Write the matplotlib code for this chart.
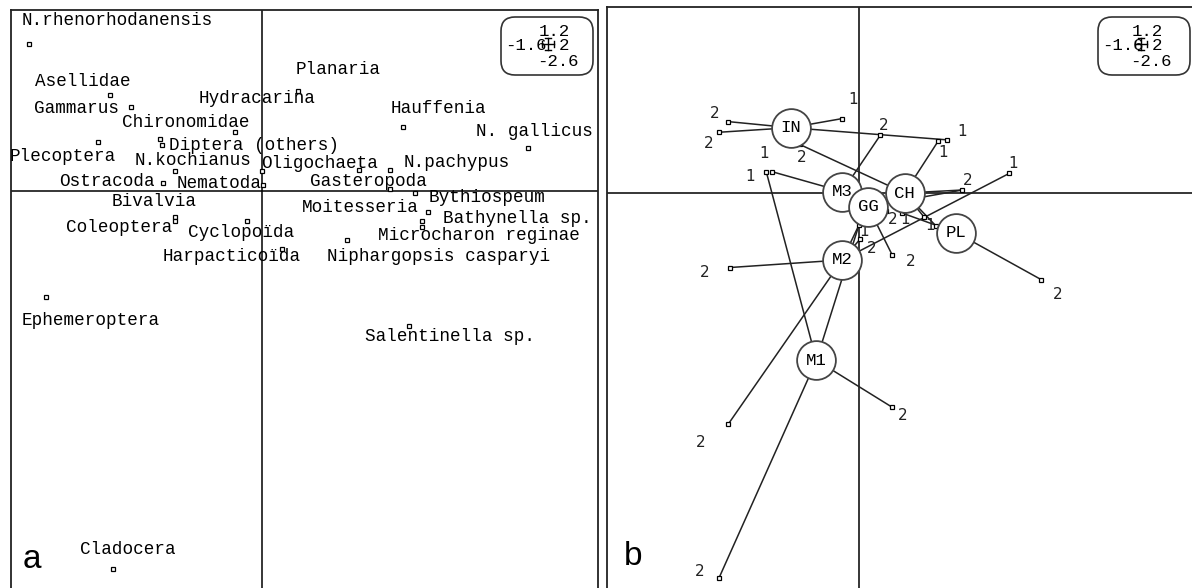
import matplotlib
matplotlib.use("Agg")
import matplotlib.pyplot as plt
import matplotlib.transforms as mtransforms
from matplotlib.patches import FancyBboxPatch

# ---- panel a : species scores ----
pt_x = [-1.53, -1.00, -0.86, -0.18, -1.08, -0.67, -0.66, -0.57, -0.65, 0.00,
        0.01, 0.24, 0.93, 1.75, 0.64, 0.84, 0.84, 1.01, 1.09, 1.05,
        1.05, 0.56, 0.97, -0.57, -0.57, -0.10, 0.13, -1.42, -0.98]
pt_y = [0.97, 0.63, 0.55, 0.39, 0.32, 0.34, 0.30, 0.13, 0.05, 0.13,
        0.04, 0.66, 0.42, 0.28, 0.14, 0.14, 0.01, -0.01, -0.14, -0.20,
        -0.24, -0.32, -0.89, -0.17, -0.20, -0.20, -0.38, -0.70, -2.49]

names = ["N.rhenorhodanensis", "Asellidae", "Gammarus", "Chironomidae",
         "Hydracarina", "Planaria", "Hauffenia", "N. gallicus",
         "Diptera (others)", "Plecoptera", "N.kochianus", "Oligochaeta",
         "N.pachypus", "Ostracoda", "Nematoda", "Gasteropoda", "Bivalvia",
         "Coleoptera", "Cyclopoïda", "Harpacticoïda", "Ephemeroptera",
         "Bythiospeum", "Moitesseria", "Bathynella sp.", "Microcharon reginae",
         "Niphargopsis casparyi", "Salentinella sp.", "Cladocera"]
lab_x = [-0.95, -1.18, -1.22, -0.50, -0.03, 0.50, 1.16, 1.79, -0.05, -1.31,
         -0.45, 0.38, 1.28, -1.02, -0.28, 0.70, -0.71, -0.94, -0.14, -0.20,
         -1.13, 1.48, 0.65, 1.68, 1.43, 1.16, 1.24, -0.88]
lab_y = [1.12, 0.72, 0.54, 0.45, 0.61, 0.80, 0.54, 0.39, 0.30, 0.23,
         0.20, 0.18, 0.19, 0.06, 0.05, 0.06, -0.07, -0.24, -0.27, -0.43,
         -0.85, -0.04, -0.11, -0.18, -0.29, -0.43, -0.96, -2.36]

# ---- panel b : sites grouped by class ----
site_x = [-0.86, -0.92, -0.11, 0.58, -0.39, 0.52, -0.57, -0.61, 0.14, 0.68,
          0.99, 0.18, 0.28, 0.43, 0.51, 1.20, 0.22, 0.00, 0.01, -0.85,
          -0.86, -0.92, 0.22]
site_y = [0.47, 0.40, 0.49, 0.35, 0.32, 0.34, 0.14, 0.14, 0.38, 0.02,
          0.13, -0.12, -0.13, -0.16, -0.22, -0.57, -0.41, -0.21, -0.30, -0.49,
          -1.52, -2.53, -1.41]
site_lab = ["2", "2", "1", "1", "2", "1", "1", "1", "2", "2",
            "1", "2", "1", "1", "", "2", "2", "1", "2", "2",
            "2", "2", "2"]
site_off = [(-14, 8), (-10, -11), (11, 19), (15, 8), (2, -13), (5, -11),
            (-8, 18), (-16, -5), (3, 10), (5, 10), (4, 10), (6, -8), (4, -7),
            (6, -8), (0, 0), (16, -15), (18, -6), (5, -7), (11, -10),
            (-25, -5), (-28, -18), (-19, 6), (10, -8)]

classes = ["IN", "M3", "GG", "CH", "PL", "M2", "M1"]
cls_x = [-0.45, -0.11, 0.06, 0.30, 0.64, -0.11, -0.28]
cls_y = [0.43, 0.01, -0.09, 0.00, -0.26, -0.44, -1.10]
members = {
    "IN": [0, 1, 2, 3],
    "CH": [4, 5, 9, 13, 14],
    "M3": [6, 8],
    "M1": [7, 17, 21, 22],
    "GG": [9, 11, 16],
    "PL": [12, 15],
    "M2": [10, 17, 18, 19, 20],
}

box_text = ["1.2", "-1.6", "2", "-2.6"]

W, H = 1192, 588
fig = plt.figure(figsize=(W / 100, H / 100), dpi=100)
mono = "Liberation Mono"


def frame(ax):
    ax.set_xticks([])
    ax.set_yticks([])
    for s in ax.spines.values():
        s.set_linewidth(1.3)
        s.set_color("#222222")
    ax.axhline(0, color="black", lw=1.1, zorder=1)
    ax.axvline(0, color="black", lw=1.1, zorder=1)


def scale_box(x0, text_dx):
    ident = mtransforms.IdentityTransform()
    box = FancyBboxPatch((x0, H - 75), 92, 58,
                         boxstyle="round,pad=0,rounding_size=14",
                         fc="white", ec="#333333", lw=1.2, transform=ident,
                         zorder=10)
    fig.patches.append(box)
    cx, cy = x0 + 47 + text_dx, H - 44
    segs = [([cx - 6, cx + 6], [cy, cy]), ([cx, cx], [cy - 6, cy + 6])]
    for e in (-6, 6):
        segs.append(([cx + e, cx + e], [cy - 3, cy + 3]))
        segs.append(([cx - 3, cx + 3], [cy + e, cy + e]))
    for xs, ys in segs:
        fig.lines.append(plt.Line2D(xs, ys, color="black", lw=1,
                                    transform=ident, zorder=11))
    kw = dict(transform=ident, family=mono, fontsize=12.5, zorder=12,
              va="center", color="black")
    fig.text(cx + 6, H - 31, box_text[0], ha="center", **kw)
    fig.text(x0 + 4, H - 46, box_text[1], ha="left", **kw)
    fig.text(cx + 16, H - 46, box_text[2], ha="center", **kw)
    fig.text(cx + 10, H - 62, box_text[3], ha="center", **kw)


# panel a
axa = fig.add_axes([11 / W, -3 / H, 587 / W, 581 / H])
frame(axa)
axa.set_xlim(-1.651, 2.211)
axa.set_ylim(-2.632, 1.191)
axa.plot(pt_x, pt_y, ls="none", marker="s", ms=3.2, mfc="white",
         mec="black", mew=0.9, zorder=3)
for n, x, y in zip(names, lab_x, lab_y):
    axa.text(x, y, n, family=mono, fontsize=12.7, ha="center", va="center",
             color="black", zorder=4)
axa.text(0.035, 0.04, "a", transform=axa.transAxes, fontsize=24,
         family="Liberation Sans", ha="center", va="baseline")

# panel b
axb = fig.add_axes([607 / W, -3 / H, 588 / W, 584 / H])
frame(axb)
axb.set_xlim(-1.658, 2.211)
axb.set_ylim(-2.618, 1.224)
for c, cx, cy in zip(classes, cls_x, cls_y):
    for i in members[c]:
        axb.plot([cx, site_x[i]], [cy, site_y[i]], color="#222222", lw=1.1,
                 zorder=2)
axb.plot(site_x, site_y, ls="none", marker="s", ms=3.2, mfc="white",
         mec="black", mew=0.9, zorder=3)
for x, y, t, off in zip(site_x, site_y, site_lab, site_off):
    if t:
        axb.annotate(t, (x, y), xytext=off, textcoords="offset pixels",
                     ha="center", va="center", fontsize=11,
                     family="DejaVu Sans", color="#222222", zorder=3)
axb.scatter(cls_x, cls_y, s=780, facecolor="white", edgecolor="#444444",
            linewidths=1.3, zorder=5)
for c, cx, cy in zip(classes, cls_x, cls_y):
    axb.text(cx, cy, c, family=mono, fontsize=12.5, ha="center", va="center",
             zorder=6, color="black")
axb.text(0.045, 0.045, "b", transform=axb.transAxes, fontsize=24,
         family="Liberation Sans", ha="center", va="baseline")

scale_box(501, 0)
scale_box(1098, -4)

fig.savefig("out.png", dpi=100)
